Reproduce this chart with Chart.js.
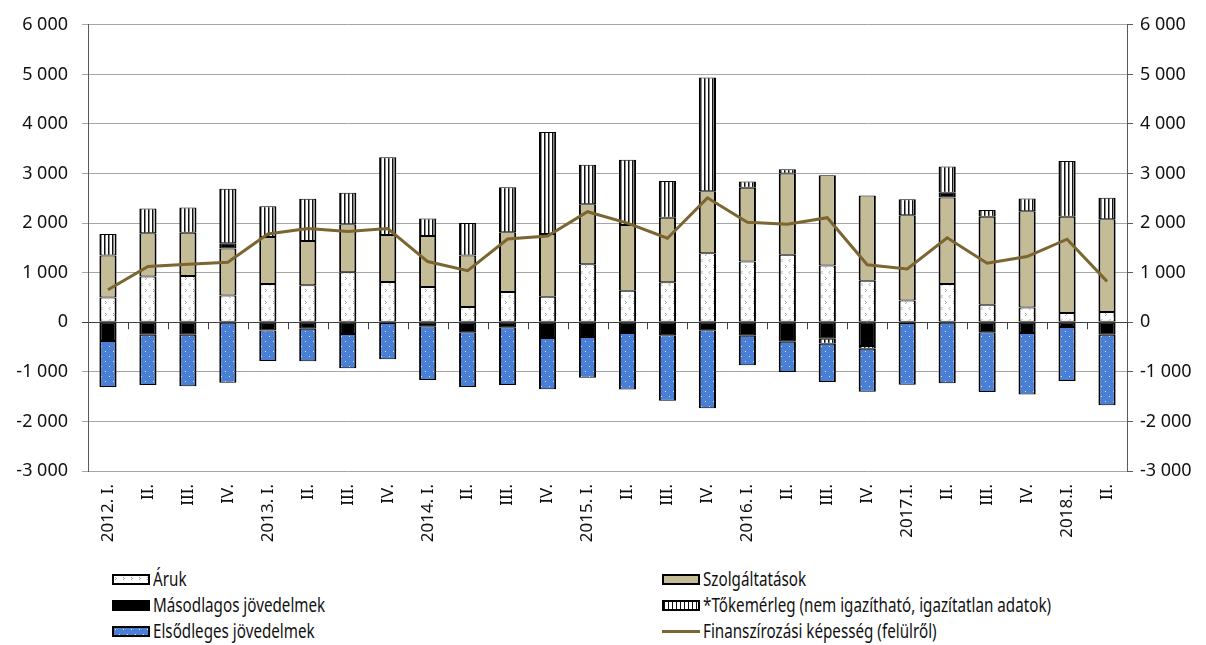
<!DOCTYPE html>
<html lang="hu">
<head>
    <meta charset="UTF-8">
    <title>Finanszírozási képesség</title>
    <script src="https://cdn.jsdelivr.net/npm/chart.js"></script>
    <style>
        body {
            margin: 0;
            padding: 0;
            background-color: #fff;
            font-family: "Noto Sans", Arial, sans-serif;
        }
        .wrap {
            position: relative;
            width: 1206px;
            height: 645px;
        }
        .chart-box {
            position: absolute;
            left: 0;
            top: 0;
            width: 1206px;
            height: 560px;
        }
        .legend-item {
            position: absolute;
            height: 22px;
            display: flex;
            align-items: center;
            font-size: 19px;
            color: #111;
            white-space: nowrap;
        }
        .legend-item .sw {
            width: 38px;
            height: 11px;
            border: 2px solid #000;
            box-sizing: border-box;
            margin-right: 3px;
            flex: none;
        }
        .legend-item .ln {
            width: 38px;
            height: 3px;
            margin-right: 3px;
            flex: none;
        }
        .legend-item span {
            display: inline-block;
            transform: scaleX(0.8);
            transform-origin: left center;
        }
    </style>
</head>
<body>
    <div class="wrap">
        <div class="chart-box">
            <canvas id="bopChart"></canvas>
        </div>
        <div class="legend-item" style="left:112px; top:568px;"><div class="sw" id="swAruk"></div><span>Áruk</span></div>
        <div class="legend-item" style="left:112px; top:594px;"><div class="sw" style="background:#000;"></div><span>Másodlagos jövedelmek</span></div>
        <div class="legend-item" style="left:112px; top:620px;"><div class="sw" id="swElsod"></div><span>Elsődleges jövedelmek</span></div>
        <div class="legend-item" style="left:662px; top:568px;"><div class="sw" style="background:#c4bc96;"></div><span>Szolgáltatások</span></div>
        <div class="legend-item" style="left:662px; top:594px;"><div class="sw" style="background:repeating-linear-gradient(90deg,#111 0 1.5px,#fff 1.5px 4px);"></div><span>*Tőkemérleg (nem igazítható, igazítatlan adatok)</span></div>
        <div class="legend-item" style="left:662px; top:620px;"><div class="ln" style="background:#7b6530;"></div><span>Finanszírozási képesség (felülről)</span></div>
    </div>

    <script>
        const quarters = ['2012. I.', 'II.', 'III.', 'IV.', '2013. I.', 'II.', 'III.', 'IV.',
            '2014. I.', 'II.', 'III.', 'IV.', '2015. I.', 'II.', 'III.', 'IV.',
            '2016. I.', 'II.', 'III.', 'IV.', '2017.I.', 'II.', 'III.', 'IV.', '2018.I.', 'II.'];

        const aruk = [500, 925, 935, 540, 770, 745, 1010, 810, 710, 310, 610, 515, 1170,
            635, 805, 1390, 1225, 1360, 1145, 835, 440, 770, 355, 300, 185, 205];
        const szolgaltatasok = [845, 870, 870, 950, 950, 895, 965, 950, 1030, 1035, 1205, 1265, 1210,
            1325, 1305, 1255, 1490, 1640, 1820, 1720, 1720, 1745, 1775, 1940, 1945, 1875];
        const masodlagos = [-380, -250, -250, 105, -165, -130, -235, -15, -80, -200, -100, -315, -295,
            -215, -260, -160, -270, -395, -330, -480, -15, 95, -200, -215, -95, -250];
        const tokemerleg = [435, 500, 510, 1100, 620, 850, 635, 1570, 355, 655, 910, 2060, 795,
            1320, 740, 2290, 125, 85, -105, -55, 320, 530, 135, 255, 1125, 430];
        const elsodleges = [-925, -1015, -1040, -1220, -615, -655, -695, -730, -1085, -1105, -1165, -1035, -825,
            -1140, -1325, -1575, -595, -610, -770, -865, -1245, -1230, -1205, -1240, -1090, -1425];
        const finanszirozas = [655, 1125, 1170, 1210, 1780, 1890, 1830, 1890, 1225, 1040, 1680, 1740, 2230,
            2000, 1695, 2510, 2015, 1975, 2110, 1160, 1075, 1705, 1190, 1325, 1675, 825];

        // small fill patterns like the excel ones
        function makePattern(w, h, drawFn) {
            const c = document.createElement('canvas');
            c.width = w;
            c.height = h;
            drawFn(c.getContext('2d'));
            return c;
        }

        const arukTile = makePattern(8, 12, g => {
            g.fillStyle = '#fff';
            g.fillRect(0, 0, 8, 12);
            g.strokeStyle = '#a0a0a0';
            g.lineWidth = 1;
            g.beginPath();
            g.moveTo(1, 1); g.lineTo(2.5, 2.5); g.lineTo(1, 4);
            g.moveTo(6.5, 7); g.lineTo(5, 8.5); g.lineTo(6.5, 10);
            g.stroke();
        });
        const elsodTile = makePattern(8, 10, g => {
            g.fillStyle = '#4a7fd6';
            g.fillRect(0, 0, 8, 10);
            g.fillStyle = '#dfe9fb';
            g.fillRect(1, 1, 1, 1);
            g.fillRect(5, 6, 1, 1);
        });
        const tokeTile = makePattern(4, 4, g => {
            g.fillStyle = '#fff';
            g.fillRect(0, 0, 4, 4);
            g.fillStyle = '#111';
            g.fillRect(0, 0, 1.5, 4);
        });

        document.getElementById('swAruk').style.background = 'url(' + arukTile.toDataURL() + ')';
        document.getElementById('swElsod').style.background = 'url(' + elsodTile.toDataURL() + ')';

        const ctx = document.getElementById('bopChart').getContext('2d');
        const arukFill = ctx.createPattern(arukTile, 'repeat');
        const elsodFill = ctx.createPattern(elsodTile, 'repeat');
        const tokeFill = ctx.createPattern(tokeTile, 'repeat');

        function spaced(v) {
            const s = Math.abs(v).toString().replace(/\B(?=(\d{3})+(?!\d))/g, ' ');
            return (v < 0 ? '-' : '') + s;
        }

        const barCommon = {
            type: 'bar',
            borderColor: '#000',
            borderWidth: { top: 1, bottom: 1, left: 2, right: 2 },
            borderSkipped: false,
            barPercentage: 0.43,
            categoryPercentage: 1,
            order: 1
        };

        // category tick marks sitting on the zero line
        const zeroTicks = {
            id: 'zeroTicks',
            afterDatasetsDraw(chart) {
                const xs = chart.scales.x;
                const ys = chart.scales.y;
                const y0 = ys.getPixelForValue(0);
                const half = (xs.getPixelForValue(1) - xs.getPixelForValue(0)) / 2;
                const c = chart.ctx;
                c.save();
                c.strokeStyle = '#404040';
                c.lineWidth = 1;
                c.beginPath();
                for (let i = 0; i < quarters.length; i++) {
                    const x = Math.round(xs.getPixelForValue(i) + half) + 0.5;
                    c.moveTo(x, y0);
                    c.lineTo(x, y0 + 7);
                }
                c.stroke();
                c.restore();
            }
        };

        new Chart(ctx, {
            data: {
                labels: quarters,
                datasets: [
                    Object.assign({ label: 'Áruk', data: aruk, backgroundColor: arukFill }, barCommon),
                    Object.assign({ label: 'Szolgáltatások', data: szolgaltatasok, backgroundColor: '#c4bc96' }, barCommon),
                    Object.assign({ label: 'Másodlagos jövedelmek', data: masodlagos, backgroundColor: '#000' }, barCommon),
                    Object.assign({ label: '*Tőkemérleg (nem igazítható, igazítatlan adatok)', data: tokemerleg, backgroundColor: tokeFill }, barCommon),
                    Object.assign({ label: 'Elsődleges jövedelmek', data: elsodleges, backgroundColor: elsodFill }, barCommon),
                    {
                        type: 'line',
                        label: 'Finanszírozási képesség (felülről)',
                        data: finanszirozas,
                        borderColor: '#7b6530',
                        borderWidth: 3,
                        pointRadius: 0,
                        tension: 0,
                        order: 0
                    }
                ]
            },
            options: {
                responsive: true,
                maintainAspectRatio: false,
                animation: false,
                layout: { padding: { top: 22, left: 0, right: 0, bottom: 0 } },
                plugins: {
                    legend: { display: false },
                    tooltip: { enabled: false }
                },
                scales: {
                    x: {
                        stacked: true,
                        grid: { display: false },
                        border: { display: false },
                        ticks: {
                            minRotation: 90,
                            maxRotation: 90,
                            autoSkip: false,
                            padding: 5,
                            color: '#111',
                            font: { family: 'Noto Sans', size: 17 }
                        },
                        afterFit(scale) { scale.height = 89; }
                    },
                    y: {
                        stacked: true,
                        position: 'left',
                        min: -3000,
                        max: 6000,
                        ticks: {
                            stepSize: 1000,
                            padding: 14,
                            color: '#111',
                            font: { family: 'Noto Sans', size: 18 },
                            callback: v => spaced(v)
                        },
                        grid: {
                            color: c => (c.tick && c.tick.value === 0) ? '#404040' : '#a6a6a6',
                            lineWidth: 1,
                            tickLength: 6
                        },
                        border: { color: '#595959', width: 1 },
                        afterFit(scale) { scale.width = 88; }
                    },
                    y2: {
                        position: 'right',
                        min: -3000,
                        max: 6000,
                        ticks: {
                            stepSize: 1000,
                            padding: 7,
                            color: '#111',
                            font: { family: 'Noto Sans', size: 18 },
                            callback: v => spaced(v)
                        },
                        grid: {
                            drawOnChartArea: false,
                            color: '#595959',
                            tickLength: 6
                        },
                        border: { color: '#595959', width: 1 },
                        afterFit(scale) { scale.width = 79; }
                    }
                }
            },
            plugins: [zeroTicks]
        });
    </script>
</body>
</html>
